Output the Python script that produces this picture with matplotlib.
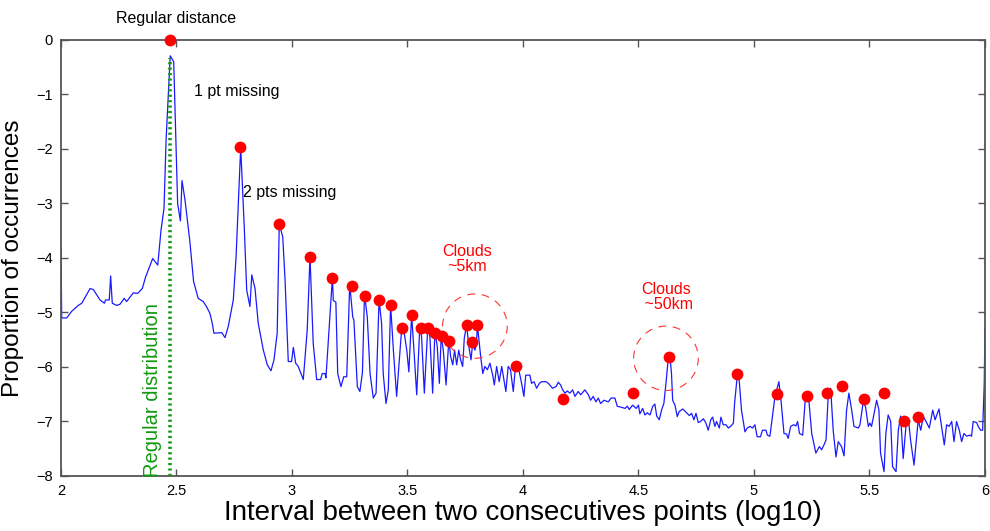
import numpy as np
import matplotlib.pyplot as plt
from matplotlib.patches import Ellipse

plt.rcParams['font.family'] = ['Liberation Sans', 'DejaVu Sans']

# histogram of log10 intervals
interval = [
    2.000, 2.003, 2.025, 2.046, 2.075, 2.090, 2.126, 2.140, 2.169, 2.188,
    2.193, 2.209, 2.215, 2.222, 2.241, 2.255, 2.274, 2.284, 2.313, 2.332,
    2.352, 2.367, 2.397, 2.419, 2.433, 2.446, 2.455, 2.473, 2.488, 2.505,
    2.517, 2.524, 2.537, 2.558, 2.574, 2.594, 2.616, 2.631, 2.645, 2.655,
    2.662, 2.696, 2.710, 2.724, 2.746, 2.758, 2.778, 2.794, 2.804, 2.818,
    2.826, 2.840, 2.854, 2.876, 2.893, 2.909, 2.922, 2.936, 2.945, 2.960,
    2.970, 2.984, 2.998, 3.006, 3.016, 3.027, 3.049, 3.066, 3.078, 3.092,
    3.107, 3.124, 3.131, 3.143, 3.147, 3.175, 3.179, 3.190, 3.198, 3.212,
    3.224, 3.237, 3.250, 3.263, 3.268, 3.283, 3.294, 3.305, 3.314, 3.326,
    3.338, 3.352, 3.364, 3.377, 3.388, 3.395, 3.407, 3.417, 3.427, 3.439,
    3.453, 3.475, 3.485, 3.497, 3.506, 3.518, 3.528, 3.540, 3.553, 3.561,
    3.573, 3.588, 3.597, 3.609, 3.619, 3.629, 3.638, 3.646, 3.655, 3.667,
    3.679, 3.687, 3.696, 3.704, 3.713, 3.722, 3.730, 3.739, 3.746, 3.756,
    3.766, 3.775, 3.782, 3.792, 3.798, 3.803, 3.817, 3.826, 3.835, 3.846,
    3.857, 3.869, 3.876, 3.886, 3.897, 3.908, 3.919, 3.926, 3.936, 3.946,
    3.958, 3.967, 3.984, 3.994, 4.004, 4.012, 4.030, 4.037, 4.048, 4.059,
    4.071, 4.081, 4.100, 4.110, 4.128, 4.143, 4.153, 4.163, 4.172, 4.182,
    4.192, 4.203, 4.215, 4.225, 4.239, 4.250, 4.268, 4.283, 4.293, 4.304,
    4.316, 4.326, 4.336, 4.351, 4.369, 4.382, 4.398, 4.408, 4.427, 4.442,
    4.452, 4.460, 4.475, 4.490, 4.500, 4.506, 4.518, 4.528, 4.538, 4.550,
    4.562, 4.571, 4.579, 4.590, 4.600, 4.610, 4.619, 4.629, 4.636, 4.643,
    4.648, 4.658, 4.668, 4.676, 4.691, 4.706, 4.720, 4.730, 4.740, 4.749,
    4.759, 4.769, 4.781, 4.792, 4.802, 4.813, 4.821, 4.831, 4.838, 4.850,
    4.857, 4.867, 4.879, 4.889, 4.899, 4.911, 4.916, 4.928, 4.936, 4.946,
    4.961, 4.971, 4.983, 4.994, 5.004, 5.014, 5.028, 5.037, 5.052, 5.058,
    5.069, 5.081, 5.091, 5.108, 5.117, 5.130, 5.141, 5.148, 5.159, 5.171,
    5.182, 5.189, 5.197, 5.211, 5.224, 5.235, 5.250, 5.268, 5.283, 5.293,
    5.303, 5.312, 5.322, 5.332, 5.343, 5.355, 5.365, 5.379, 5.390, 5.401,
    5.411, 5.423, 5.433, 5.452, 5.459, 5.473, 5.483, 5.495, 5.502, 5.509,
    5.519, 5.531, 5.541, 5.548, 5.563, 5.571, 5.581, 5.592, 5.600, 5.615,
    5.625, 5.635, 5.646, 5.658, 5.668, 5.678, 5.693, 5.704, 5.711, 5.722,
    5.733, 5.745, 5.759, 5.774, 5.784, 5.801, 5.812, 5.824, 5.834, 5.845,
    5.856, 5.866, 5.877, 5.889, 5.899, 5.909, 5.921, 5.935, 5.942, 5.949,
    5.964, 5.971, 5.981, 5.990, 5.997, 6.000,
]
proportion = [
    -3.79, -5.10, -5.10, -4.98, -4.87, -4.83, -4.56, -4.58, -4.77, -4.83,
    -4.77, -4.77, -4.33, -4.83, -4.87, -4.85, -4.74, -4.80, -4.64, -4.65,
    -4.56, -4.34, -4.01, -4.13, -3.49, -3.09, -1.83, -0.29, -0.40, -3.00,
    -3.32, -2.58, -2.94, -3.70, -4.43, -4.74, -4.80, -4.90, -5.02, -5.20,
    -5.38, -5.37, -5.46, -5.26, -4.77, -3.98, -1.97, -3.49, -4.59, -4.89,
    -4.31, -4.56, -5.20, -5.69, -5.96, -6.07, -5.87, -5.38, -3.38, -3.61,
    -4.40, -5.90, -5.90, -5.64, -5.93, -5.99, -6.23, -5.32, -3.98, -5.57,
    -6.23, -6.23, -6.12, -6.12, -6.20, -4.36, -4.78, -4.81, -6.12, -6.36,
    -6.18, -6.18, -4.48, -5.08, -5.14, -6.36, -6.45, -6.10, -4.67, -5.08,
    -6.12, -6.57, -6.48, -4.77, -5.20, -6.12, -6.67, -6.42, -4.86, -5.69,
    -6.54, -5.29, -5.35, -5.69, -6.09, -5.05, -5.69, -6.51, -5.29, -5.44,
    -6.48, -5.26, -5.44, -6.48, -5.33, -5.63, -6.30, -5.43, -5.69, -6.33,
    -5.50, -5.81, -5.96, -5.69, -5.96, -5.69, -5.87, -5.99, -5.47, -5.23,
    -5.63, -5.87, -5.57, -5.69, -5.60, -5.24, -5.81, -6.12, -5.99, -6.05,
    -5.93, -6.15, -6.33, -5.99, -6.27, -5.99, -6.27, -6.45, -5.99, -6.05,
    -6.45, -6.02, -6.09, -6.30, -6.54, -6.15, -6.15, -6.30, -6.27, -6.39,
    -6.30, -6.27, -6.27, -6.30, -6.39, -6.36, -6.28, -6.33, -6.42, -6.48,
    -6.44, -6.48, -6.42, -6.54, -6.45, -6.51, -6.42, -6.51, -6.61, -6.54,
    -6.64, -6.57, -6.67, -6.61, -6.64, -6.57, -6.57, -6.72, -6.74, -6.76,
    -6.72, -6.78, -6.70, -6.76, -6.70, -6.86, -6.76, -6.88, -6.84, -6.88,
    -6.72, -6.68, -6.90, -6.97, -6.79, -6.67, -6.30, -5.84, -5.78, -6.12,
    -6.61, -6.70, -6.91, -6.82, -6.77, -6.83, -6.89, -6.85, -6.97, -6.85,
    -7.02, -7.00, -6.95, -7.03, -7.16, -6.97, -6.92, -7.09, -7.00, -7.12,
    -6.92, -7.06, -7.06, -7.12, -7.09, -7.03, -6.67, -6.15, -6.24, -6.79,
    -7.19, -7.12, -7.09, -7.12, -7.06, -7.28, -7.28, -7.16, -7.16, -7.25,
    -7.27, -6.88, -6.54, -6.27, -6.61, -7.22, -7.23, -7.31, -7.09, -7.06,
    -7.08, -7.00, -7.22, -7.25, -6.48, -6.48, -7.22, -7.58, -7.46, -7.52,
    -7.43, -7.34, -6.48, -6.39, -7.16, -7.65, -7.37, -7.46, -7.63, -6.79,
    -6.48, -6.79, -7.09, -7.12, -7.06, -6.64, -6.73, -7.09, -7.03, -7.09,
    -6.88, -6.61, -6.79, -7.58, -7.92, -7.22, -6.88, -7.00, -7.83, -7.92,
    -7.16, -6.90, -7.68, -7.09, -6.94, -7.34, -7.80, -7.28, -6.97, -7.16,
    -6.91, -7.00, -7.12, -6.79, -6.97, -6.77, -7.09, -7.43, -7.06, -7.09,
    -7.00, -7.37, -7.00, -7.16, -7.37, -7.22, -7.27, -7.25, -7.27, -7.00,
    -7.02, -7.09, -7.16, -7.16, -6.30, -5.30,
]

# detected peaks (red dots)
peak_x = [2.473, 2.775, 2.945, 3.078, 3.175, 3.258, 3.316, 3.378, 3.427, 3.478,
          3.518, 3.558, 3.590, 3.619, 3.648, 3.681, 3.756, 3.778, 3.799, 3.968,
          4.175, 4.478, 4.633, 4.925, 5.101, 5.228, 5.318, 5.380, 5.476, 5.563,
          5.649, 5.709]
peak_y = [0.0, -1.96, -3.38, -3.98, -4.36, -4.51, -4.69, -4.77, -4.87, -5.28,
          -5.05, -5.28, -5.28, -5.37, -5.44, -5.52, -5.23, -5.55, -5.23, -5.99,
          -6.59, -6.47, -5.81, -6.12, -6.50, -6.53, -6.47, -6.35, -6.59, -6.47,
          -7.00, -6.91]

regular_x = 2.473
regular_top = -0.33

xtick_vals = [2, 2.5, 3, 3.5, 4, 4.5, 5, 5.5, 6]
xtick_labels = ['2', '2.5', '3', '3.5', '4', '4.5', '5', '5.5', '6']
ytick_vals = [-8, -7, -6, -5, -4, -3, -2, -1, 0]

fig = plt.figure(figsize=(9.9, 5.31), dpi=100)
ax = fig.add_axes([0.0616, 0.1036, 0.9333, 0.8211])

ax.plot(interval, proportion, color='#1a1aff', lw=0.9)
ax.plot([regular_x, regular_x], [-8, regular_top], color='#119911', lw=2.6,
        linestyle=(0, (0.6, 0.9)), zorder=3)
ax.plot(peak_x, peak_y, 'o', color='red', markersize=8.5, markeredgewidth=0,
        clip_on=False, zorder=4)

# dashed circles around cloud peaks
for cx, cy in [(3.792, -5.25), (4.619, -5.84)]:
    ax.add_patch(Ellipse((cx, cy), 0.28, 1.18, fill=False, edgecolor='#ff3333',
                         lw=0.8, linestyle=(0, (7, 6)), zorder=2))

ax.text(2.50, 0.40, 'Regular distance', fontsize=11.5, ha='center', va='center', clip_on=False)
ax.text(2.575, -0.95, '1 pt missing', fontsize=11.5, ha='left', va='center')
ax.text(2.79, -2.8, '2 pts missing', fontsize=11.5, ha='left', va='center')
ax.text(3.76, -4.02, 'Clouds\n~5km', fontsize=11.5, ha='center', va='center',
        color='red', linespacing=1.0)
ax.text(4.62, -4.72, 'Clouds\n ~50km', fontsize=11.5, ha='center', va='center',
        color='red', linespacing=1.0)
ax.text(2.395, -6.42, 'Regular distribution', fontsize=14.5, rotation=90,
        ha='center', va='center', color='#119911')

ax.set_xlim(2, 6)
ax.set_ylim(-8, 0)
ax.set_xticks(xtick_vals)
ax.set_xticklabels(xtick_labels)
ax.set_yticks(ytick_vals)
ax.set_yticklabels(['\u2212%d' % abs(v) if v < 0 else '0' for v in ytick_vals])
ax.tick_params(direction='in', top=True, right=True, length=5, width=1,
               color='#555555', labelsize=10.5, pad=6)
for s in ax.spines.values():
    s.set_color('#555555')
    s.set_linewidth(1.3)

ax.set_xlabel('Interval between two consecutives points (log10)', fontsize=20, labelpad=1)
ax.set_ylabel('Proportion of occurrences', fontsize=17.5, labelpad=9)

plt.savefig('out.png', dpi=100)
